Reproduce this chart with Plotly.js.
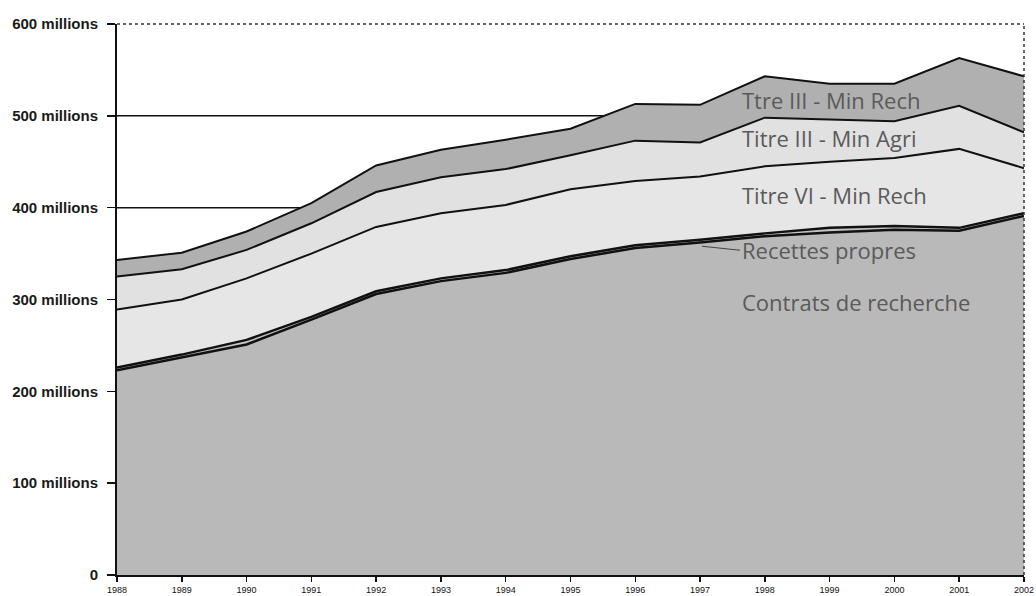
<!DOCTYPE html>
<html>
<head>
<meta charset="utf-8">
<script src="https://cdn.plot.ly/plotly-3.0.1.min.js"></script>
<style>html,body{margin:0;padding:0;background:#fff;}#chart{width:1036px;height:596px;}</style>
</head>
<body>
<div id="chart"></div>
<script>
// Years
const years = [1988,1989,1990,1991,1992,1993,1994,1995,1996,1997,1998,1999,2000,2001,2002];
// Series values (millions), stacked from bottom to top
const contratsRecherche = [223,237,251,278,306,320,329,344,356,362,369,373,376,375,391];
const recettesPropres   = [3,3,5,3,3,3,3,3,3,3,3,5,4,3,3];
const titreVIMinRech    = [63,60,67,69,70,71,71,73,70,69,73,72,74,86,49];
const titreIIIMinAgri   = [36,33,31,33,38,39,39,37,44,37,53,46,40,47,39];
const titreIIIMinRech   = [18,18,20,22,29,30,32,29,40,41,45,39,41,52,61];
// Axis ticks
const yTickVals = [0,100,200,300,400,500,600];
const yTickText = ["0","100 millions","200 millions","300 millions","400 millions","500 millions","600 millions"];
const xTickVals = years;
// Labels drawn in the chart
const seriesLabels = ["Ttre III - Min Rech","Titre III - Min Agri","Titre VI - Min Rech","Recettes propres","Contrats de recherche"];

function area(y, fill, lw){
  return {x: years, y: y, type:'scatter', mode:'lines', stackgroup:'one',
    line:{color:'#111', width:lw, shape:'linear'}, fillcolor:fill, hoverinfo:'skip'};
}
const traces = [
  area(contratsRecherche, '#b9b9b9', 2.5),
  area(recettesPropres, '#c4c4c4', 2.5),
  area(titreVIMinRech, '#e6e6e6', 2),
  area(titreIIIMinAgri, '#e1e1e1', 2),
  area(titreIIIMinRech, '#b0b0b0', 2)
];

const gridShapes = yTickVals.filter(v => v>0 && v<600).map(v => ({
  type:'line', xref:'paper', x0:0, x1:1, yref:'y', y0:v, y1:v, layer:'below',
  line:{color:'#111', width:1.5}
}));
const borderShapes = [
  {type:'line', xref:'paper', x0:0, x1:1, yref:'paper', y0:1, y1:1, line:{color:'#333', width:1.5, dash:'dot'}},
  {type:'line', xref:'paper', x0:1, x1:1, yref:'paper', y0:0, y1:1, line:{color:'#333', width:1.5, dash:'dot'}}
];

const labFont = {family:'Open Sans, Noto Sans, sans-serif', size:22, color:'#5a5a5a'};
const labelX = 1997.62;
const labelY = [517, 476, 414, 354, 297];
const annotations = seriesLabels.map((t,i) => {
  const a = {x:labelX, y:labelY[i], xref:'x', yref:'y', text:t, showarrow:false,
    xanchor:'left', yanchor:'middle', font:labFont};
  if (t === 'Recettes propres') {
    a.showarrow = true; a.arrowhead = 0; a.arrowwidth = 1; a.arrowcolor = '#444';
    a.x = 1997.03; a.y = 358;
    a.xanchor = 'left'; a.ax = 38; a.ay = 4;
  }
  return a;
});

const layout = {
  width:1036, height:596,
  margin:{l:117, r:12, t:24, b:21},
  paper_bgcolor:'#fff', plot_bgcolor:'#fff',
  showlegend:false,
  xaxis:{range:[1988,2002.0005], tickvals:xTickVals, ticktext:xTickVals.map(String),
    ticks:'outside', ticklen:5, tickwidth:1.5, tickcolor:'#111', ticklabeloverflow:'allow',
    showgrid:false, zeroline:false, showline:true, linecolor:'#111', linewidth:2,
    tickfont:{family:'Arial, Liberation Sans, sans-serif', size:9, color:'#111'}, tickangle:0},
  yaxis:{range:[0,600], tickvals:yTickVals, ticktext:yTickText,
    ticks:'outside', ticklen:8, tickwidth:1.5, tickcolor:'#111', ticklabelstandoff:6,
    showgrid:false, zeroline:false, showline:true, linecolor:'#111', linewidth:2,
    tickfont:{family:'Arial, Liberation Sans, sans-serif', size:15, color:'#1a1a1a', weight:'bold'}},
  shapes: gridShapes.concat(borderShapes),
  annotations: annotations
};
Plotly.newPlot('chart', traces, layout, {displayModeBar:false, staticPlot:true});
</script>
</body>
</html>
